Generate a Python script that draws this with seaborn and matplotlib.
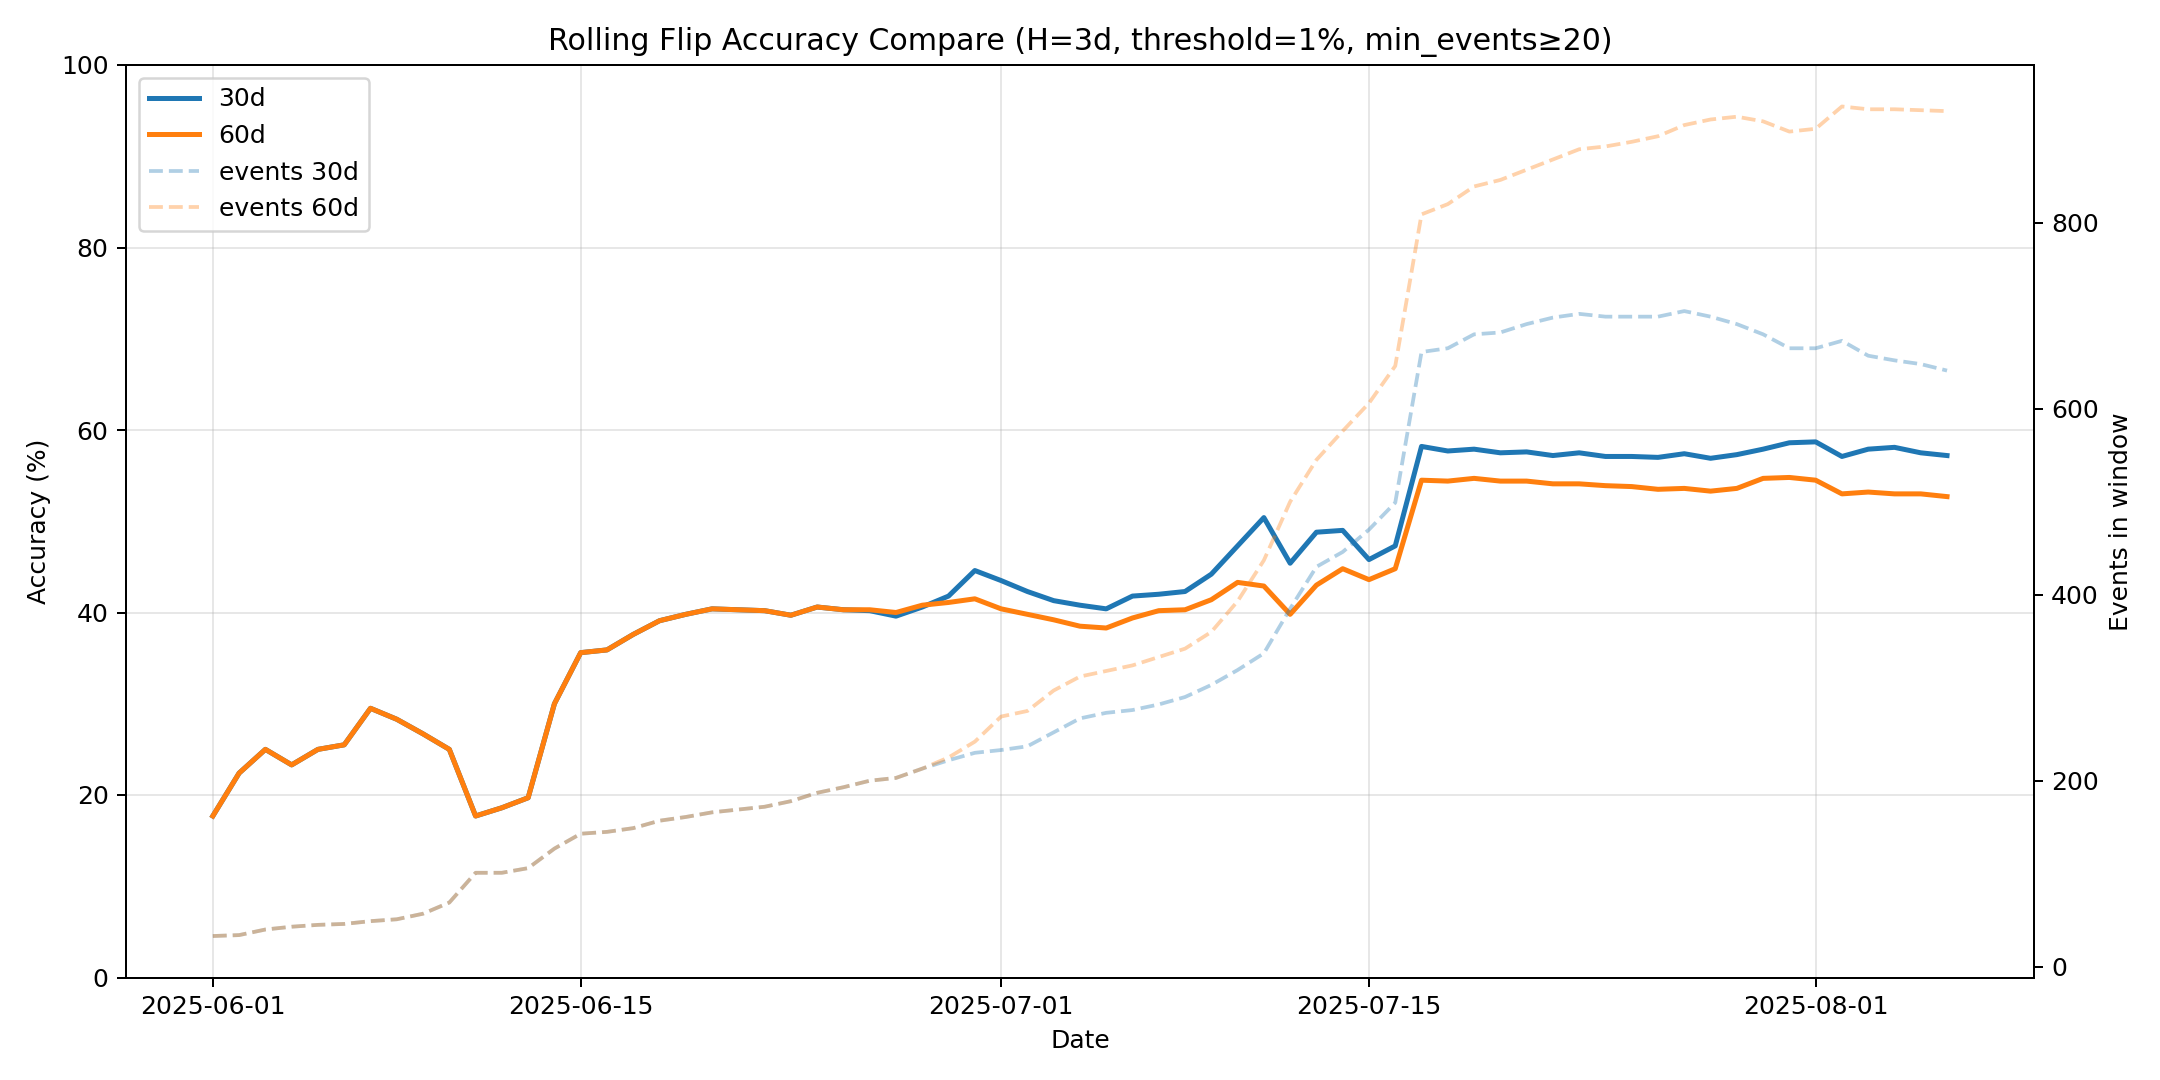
"""
Rolling flip accuracy compare: 30d vs 60d windows, with event counts on a twin axis.
"""

import numpy as np
import pandas as pd
import matplotlib
matplotlib.use("Agg")
import matplotlib.pyplot as plt
import seaborn as sns

# Daily dates 2025-06-01 .. 2025-08-06
dates = pd.date_range("2025-06-01", "2025-08-06", freq="D")

acc_60d = [
    17.7, 22.4, 25.0, 23.3, 25.0, 25.5, 29.5, 28.3, 26.7, 25.0,
    17.7, 18.6, 19.7, 30.0, 35.6, 35.9, 37.6, 39.1, 39.8, 40.4,
    40.3, 40.2, 39.7, 40.6, 40.3, 40.3, 40.0, 40.8, 41.1, 41.5,
    40.4, 39.8, 39.2, 38.5, 38.3, 39.4, 40.2, 40.3, 41.4, 43.3,
    42.9, 39.8, 43.0, 44.8, 43.6, 44.8, 54.5, 54.4, 54.7, 54.4,
    54.4, 54.1, 54.1, 53.9, 53.8, 53.5, 53.6, 53.3, 53.6, 54.7,
    54.8, 54.5, 53.0, 53.2, 53.0, 53.0, 52.7,
]

acc_30d = [
    17.7, 22.4, 25.0, 23.3, 25.0, 25.5, 29.5, 28.3, 26.7, 25.0,
    17.7, 18.6, 19.7, 30.0, 35.6, 35.9, 37.6, 39.1, 39.8, 40.4,
    40.3, 40.2, 39.7, 40.6, 40.3, 40.2, 39.6, 40.6, 41.8, 44.6,
    43.5, 42.3, 41.3, 40.8, 40.4, 41.8, 42.0, 42.3, 44.2, 47.3,
    50.4, 45.4, 48.8, 49.0, 45.8, 47.3, 58.2, 57.7, 57.9, 57.5,
    57.6, 57.2, 57.5, 57.1, 57.1, 57.0, 57.4, 56.9, 57.3, 57.9,
    58.6, 58.7, 57.1, 57.9, 58.1, 57.5, 57.2,
]

events_30d = [
    33, 34, 40, 43, 45, 46, 49, 51, 57, 69,
    101, 101, 106, 127, 143, 145, 149, 157, 161, 166,
    169, 172, 178, 187, 193, 200, 203, 213, 222, 230,
    233, 237, 252, 267, 273, 276, 282, 290, 303, 319,
    337, 385, 430, 446, 470, 499, 661, 665, 680, 682,
    691, 698, 702, 699, 699, 699, 705, 699, 691, 680,
    665, 665, 673, 657, 652, 648, 641,
]

events_60d = [
    33, 34, 40, 43, 45, 46, 49, 51, 57, 69,
    101, 101, 106, 127, 143, 145, 149, 157, 161, 166,
    169, 172, 178, 187, 193, 200, 203, 213, 225, 242,
    269, 275, 297, 312, 318, 324, 333, 342, 360, 393,
    437, 500, 545, 576, 606, 646, 809, 820, 839, 846,
    857, 868, 879, 882, 887, 893, 905, 911, 914, 909,
    898, 901, 925, 922, 922, 921, 920,
]


def main():
    df = pd.DataFrame({
        "date": dates,
        "acc_30d": acc_30d,
        "acc_60d": acc_60d,
        "events_30d": events_30d,
        "events_60d": events_60d,
    })

    fig, ax = plt.subplots(figsize=(12, 6), dpi=180)
    ax2 = ax.twinx()

    sns.lineplot(data=df, x="date", y="acc_30d", ax=ax, color="C0",
                 linewidth=2, label="30d")
    sns.lineplot(data=df, x="date", y="acc_60d", ax=ax, color="C1",
                 linewidth=2, label="60d")
    sns.lineplot(data=df, x="date", y="events_30d", ax=ax2, color="C0",
                 linewidth=1.5, linestyle="--", alpha=0.35, label="events 30d")
    sns.lineplot(data=df, x="date", y="events_60d", ax=ax2, color="C1",
                 linewidth=1.5, linestyle="--", alpha=0.35, label="events 60d")

    ax.set_ylim(0, 100)
    ax.set_xlabel("Date")
    ax.set_ylabel("Accuracy (%)")
    ax2.set_ylabel("Events in window")
    ax.set_title("Rolling Flip Accuracy Compare (H=3d, threshold=1%, min_events≥20)")
    ax.grid(True, alpha=0.3)

    # merge legends from both axes
    h1, l1 = ax.get_legend_handles_labels()
    h2, l2 = ax2.get_legend_handles_labels()
    if ax2.get_legend() is not None:
        ax2.get_legend().remove()
    ax.legend(h1 + h2, l1 + l2, loc="upper left")

    fig.tight_layout()
    fig.savefig("out.png")


if __name__ == "__main__":
    main()
